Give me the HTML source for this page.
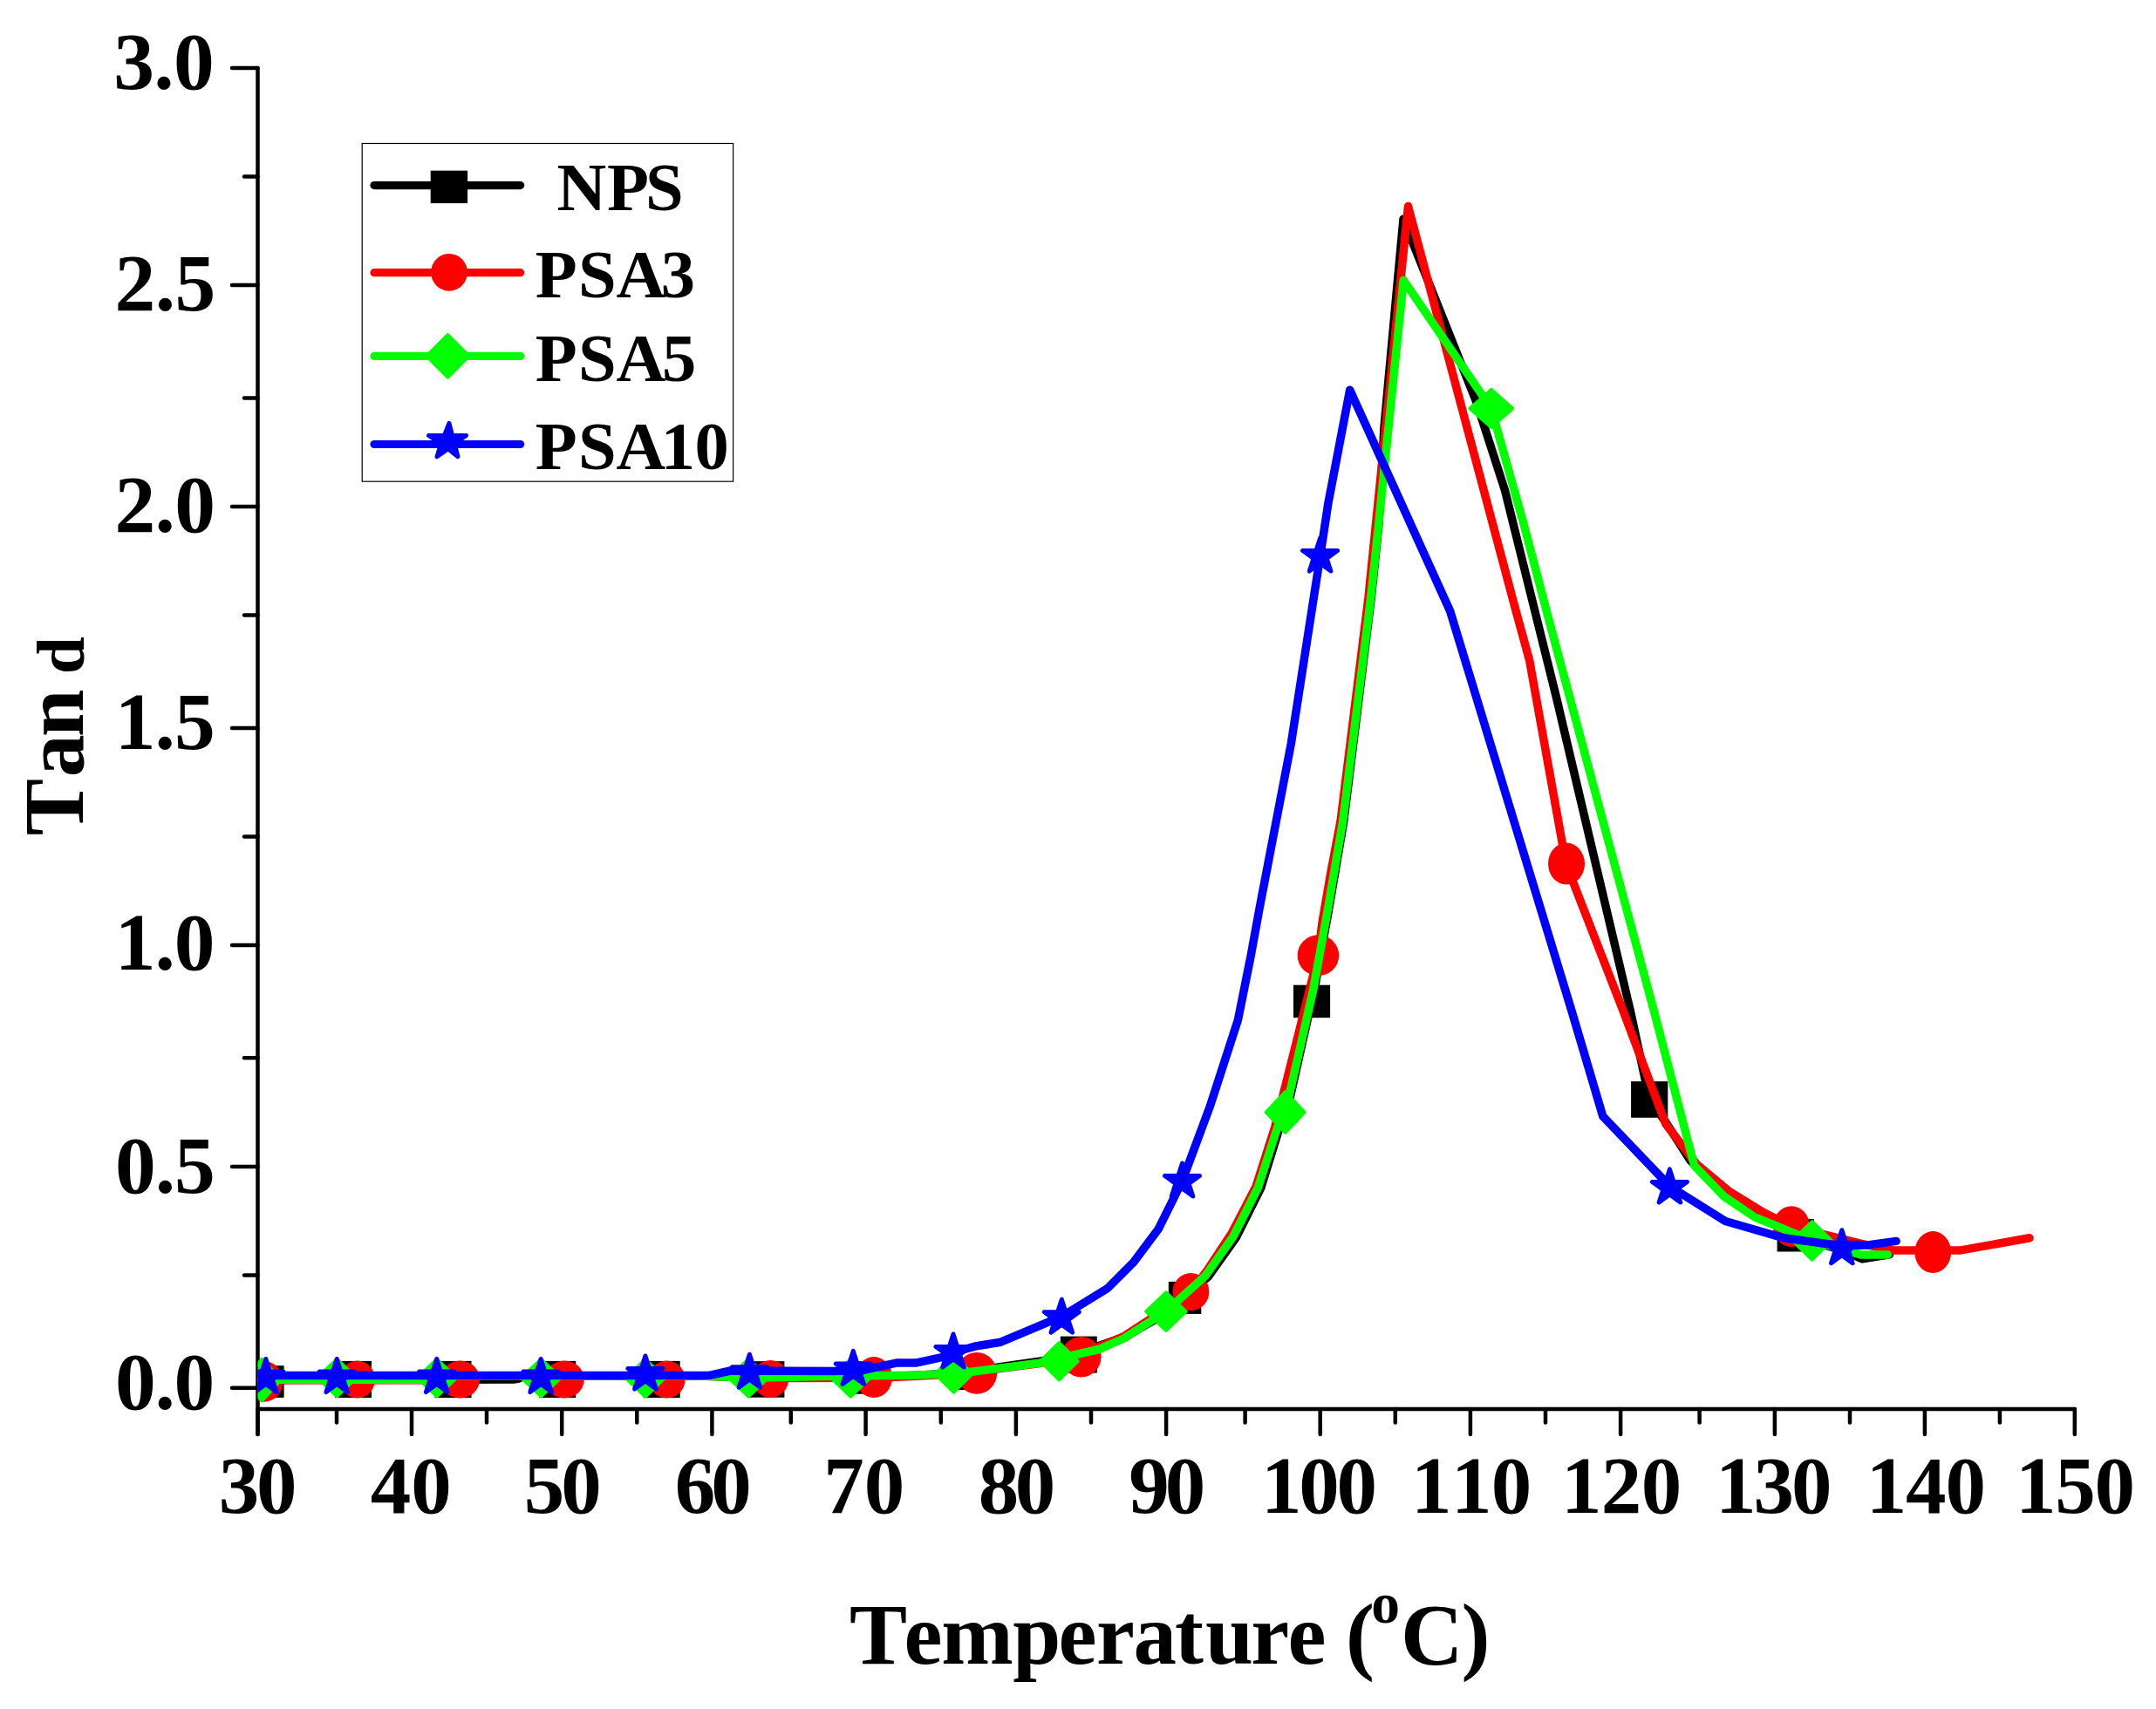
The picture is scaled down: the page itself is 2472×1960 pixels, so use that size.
<!DOCTYPE html>
<html lang="en"><head><meta charset="utf-8"><title>Tan d vs Temperature</title>
<style>html,body{margin:0;padding:0;background:#fff}body{width:2472px;height:1960px;overflow:hidden}svg{display:block}text{font-family:"Liberation Serif","Times New Roman",serif;font-weight:bold;fill:#000}</style>
</head><body>
<svg width="2472" height="1960" viewBox="0 0 2472 1960">
<rect width="2472" height="1960" fill="#fff"/>
<defs><clipPath id="plot"><rect x="295.6" y="60" width="2113.3" height="1553.7"/></clipPath></defs>
<g stroke="#000" stroke-width="4.5" stroke-linecap="round" fill="none">
<line x1="295.5" y1="78.0" x2="295.5" y2="1644.9"/>
<line x1="295.5" y1="1615.9" x2="2378.8" y2="1615.9"/>
<line x1="295.5" y1="1615.9" x2="295.5" y2="1644.9"/>
<line x1="386.0" y1="1615.9" x2="386.0" y2="1631.4"/>
<line x1="472.0" y1="1615.9" x2="472.0" y2="1644.9"/>
<line x1="558.0" y1="1615.9" x2="558.0" y2="1631.4"/>
<line x1="644.2" y1="1615.9" x2="644.2" y2="1644.9"/>
<line x1="730.3" y1="1615.9" x2="730.3" y2="1631.4"/>
<line x1="816.4" y1="1615.9" x2="816.4" y2="1644.9"/>
<line x1="906.8" y1="1615.9" x2="906.8" y2="1631.4"/>
<line x1="992.6" y1="1615.9" x2="992.6" y2="1644.9"/>
<line x1="1078.8" y1="1615.9" x2="1078.8" y2="1631.4"/>
<line x1="1164.9" y1="1615.9" x2="1164.9" y2="1644.9"/>
<line x1="1251.0" y1="1615.9" x2="1251.0" y2="1631.4"/>
<line x1="1337.1" y1="1615.9" x2="1337.1" y2="1644.9"/>
<line x1="1427.6" y1="1615.9" x2="1427.6" y2="1631.4"/>
<line x1="1513.7" y1="1615.9" x2="1513.7" y2="1644.9"/>
<line x1="1599.8" y1="1615.9" x2="1599.8" y2="1631.4"/>
<line x1="1685.9" y1="1615.9" x2="1685.9" y2="1644.9"/>
<line x1="1772.0" y1="1615.9" x2="1772.0" y2="1631.4"/>
<line x1="1858.1" y1="1615.9" x2="1858.1" y2="1644.9"/>
<line x1="1948.6" y1="1615.9" x2="1948.6" y2="1631.4"/>
<line x1="2034.9" y1="1615.9" x2="2034.9" y2="1644.9"/>
<line x1="2121.0" y1="1615.9" x2="2121.0" y2="1631.4"/>
<line x1="2206.9" y1="1615.9" x2="2206.9" y2="1644.9"/>
<line x1="2292.9" y1="1615.9" x2="2292.9" y2="1631.4"/>
<line x1="2378.8" y1="1615.9" x2="2378.8" y2="1644.9"/>
<line x1="295.5" y1="78.0" x2="266.0" y2="78.0"/>
<line x1="295.5" y1="202.4" x2="280.0" y2="202.4"/>
<line x1="295.5" y1="327.0" x2="266.0" y2="327.0"/>
<line x1="295.5" y1="456.5" x2="280.0" y2="456.5"/>
<line x1="295.5" y1="581.0" x2="266.0" y2="581.0"/>
<line x1="295.5" y1="705.6" x2="280.0" y2="705.6"/>
<line x1="295.5" y1="835.0" x2="266.0" y2="835.0"/>
<line x1="295.5" y1="959.5" x2="280.0" y2="959.5"/>
<line x1="295.5" y1="1084.0" x2="266.0" y2="1084.0"/>
<line x1="295.5" y1="1213.3" x2="280.0" y2="1213.3"/>
<line x1="295.5" y1="1337.9" x2="266.0" y2="1337.9"/>
<line x1="295.5" y1="1462.5" x2="280.0" y2="1462.5"/>
<line x1="295.5" y1="1591.8" x2="266.0" y2="1591.8"/>
</g>
<g clip-path="url(#plot)" fill="none" stroke-linejoin="round" stroke-linecap="round">
<polyline points="300.0,1582.5 589.0,1582.0 595.0,1581.0 602.0,1577.8 800.0,1577.8 880.0,1580.5 1000.0,1579.5 1050.0,1577.3 1093.0,1575.0 1143.0,1568.3 1192.0,1561.3 1236.6,1551.8 1290.0,1533.0 1338.5,1505.5 1358.5,1488.4 1385.5,1464.0 1417.5,1419.0 1445.5,1363.0 1467.0,1293.5 1475.2,1276.5 1492.3,1200.0 1507.3,1133.6 1524.0,1040.5 1540.6,942.8 1572.3,685.0 1581.0,600.0 1587.0,490.0 1609.0,251.2 1692.6,460.4 1725.5,562.4 1784.5,800.0 1869.5,1160.0 1891.2,1261.0 1909.9,1287.0 1938.1,1331.0 1980.0,1370.0 2020.0,1393.0 2058.3,1417.0 2077.6,1423.5 2112.0,1434.0 2135.3,1443.8 2166.5,1438.7" stroke="#000" stroke-width="9.5"/>
<g fill="#000" stroke="none">
<rect x="283.6" y="1566.2" width="42.0" height="36.7"/>
<rect x="384.0" y="1560.9" width="42.0" height="42.2"/>
<rect x="498.5" y="1560.9" width="42.0" height="42.2"/>
<rect x="618.2" y="1560.9" width="42.0" height="42.2"/>
<rect x="737.7" y="1560.9" width="42.0" height="42.2"/>
<rect x="857.4" y="1561.2" width="42.0" height="41.5"/>
<rect x="976.0" y="1561.2" width="37.5" height="37.5"/>
<rect x="1096.0" y="1557.0" width="37.5" height="37.0"/>
<rect x="1215.8" y="1532.6" width="42.0" height="42.0"/>
<rect x="1339.8" y="1469.9" width="37.5" height="37.0"/>
<rect x="1483.0" y="1129.7" width="42.1" height="37.5"/>
<rect x="1870.1" y="1240.2" width="42.2" height="41.6"/>
<rect x="2037.6" y="1398.1" width="42.2" height="37.4"/>
</g>
<polyline points="300.0,1582.8 500.0,1582.8 528.0,1577.9 800.0,1577.9 880.0,1580.5 1000.0,1580.3 1050.0,1578.3 1093.0,1576.0 1120.0,1573.0 1192.0,1563.5 1239.6,1553.0 1288.0,1533.0 1334.0,1503.0 1365.4,1481.6 1384.0,1457.0 1413.0,1413.0 1440.0,1361.0 1462.0,1292.0 1491.5,1175.0 1511.4,1095.7 1516.0,1058.0 1526.0,1000.0 1537.0,942.0 1569.0,685.0 1614.5,236.6 1737.9,700.0 1753.6,757.2 1795.5,990.6 1861.3,1160.0 1909.9,1289.2 1945.0,1335.0 1982.6,1366.4 2021.2,1390.1 2053.9,1406.5 2131.0,1425.7 2169.6,1434.1 2246.8,1434.1 2327.0,1419.8" stroke="#f00" stroke-width="9.5"/>
<g fill="#f00" stroke="none">
<ellipse cx="302.5" cy="1584.4" rx="22.0" ry="23.3"/>
<ellipse cx="409.7" cy="1582.0" rx="20.3" ry="21.5"/>
<ellipse cx="527.4" cy="1582.0" rx="22.7" ry="21.5"/>
<ellipse cx="647.1" cy="1582.0" rx="22.7" ry="21.5"/>
<ellipse cx="764.6" cy="1582.0" rx="21.0" ry="21.5"/>
<ellipse cx="883.4" cy="1581.4" rx="20.8" ry="21.5"/>
<ellipse cx="1001.9" cy="1579.6" rx="21.2" ry="23.5"/>
<ellipse cx="1119.9" cy="1574.9" rx="23.2" ry="23.9"/>
<ellipse cx="1239.6" cy="1556.2" rx="23.0" ry="23.2"/>
<ellipse cx="1365.4" cy="1481.6" rx="21.0" ry="21.5"/>
<ellipse cx="1511.4" cy="1095.7" rx="23.8" ry="23.4"/>
<ellipse cx="1796.0" cy="990.6" rx="21.0" ry="24.0"/>
<ellipse cx="2053.9" cy="1406.6" rx="21.0" ry="23.3"/>
<ellipse cx="2216.2" cy="1436.1" rx="20.9" ry="24.0"/>
</g>
<polyline points="300.0,1582.3 488.0,1582.3 512.0,1577.8 800.0,1577.8 860.0,1580.2 940.0,1578.5 1044.0,1577.2 1093.5,1575.5 1118.0,1572.7 1192.0,1563.1 1260.0,1547.5 1288.6,1535.0 1336.9,1504.1 1382.2,1462.9 1414.1,1418.0 1442.4,1362.0 1464.8,1292.6 1473.6,1275.6 1491.0,1200.0 1506.0,1133.6 1522.9,1040.0 1539.6,942.3 1571.8,685.0 1580.8,600.0 1609.2,321.4 1709.8,468.4 1746.8,600.0 1773.0,700.0 1896.5,1160.0 1942.6,1336.7 1976.7,1372.3 2012.3,1396.1 2077.6,1422.8 2134.0,1439.1 2164.3,1439.1" stroke="#0f0" stroke-width="9.5"/>
<g fill="#0f0" stroke="#0f0" stroke-width="4">
<polygon points="278.6,1582.6 300.3,1558.9 322.0,1582.6 300.3,1606.3"/>
<polygon points="363.9,1580.1 386.2,1559.0 408.5,1580.1 386.2,1601.2"/>
<polygon points="478.6,1580.2 500.9,1559.0 523.2,1580.2 500.9,1601.4"/>
<polygon points="598.0,1580.2 620.3,1559.0 642.6,1580.2 620.3,1601.4"/>
<polygon points="717.6,1580.4 739.9,1559.1 762.2,1580.4 739.9,1601.7"/>
<polygon points="835.8,1580.2 858.1,1558.9 880.4,1580.2 858.1,1601.5"/>
<polygon points="953.0,1580.2 975.3,1558.9 997.6,1580.2 975.3,1601.5"/>
<polygon points="1072.3,1575.6 1093.5,1554.5 1114.7,1575.6 1093.5,1596.7"/>
<polygon points="1192.9,1561.2 1214.3,1540.1 1235.7,1561.2 1214.3,1582.3"/>
<polygon points="1314.2,1504.1 1336.9,1482.4 1359.6,1504.1 1336.9,1525.8"/>
<polygon points="1451.7,1275.6 1473.6,1252.3 1495.5,1275.6 1473.6,1298.9"/>
<polygon points="1685.4,468.4 1709.8,446.9 1734.2,468.4 1709.8,489.9"/>
<polygon points="2055.4,1422.8 2077.6,1401.1 2099.8,1422.8 2077.6,1444.5"/>
</g>
<polyline points="300.0,1577.6 812.5,1577.6 837.6,1572.0 955.3,1572.5 989.0,1571.5 1027.6,1563.1 1050.0,1563.1 1081.0,1556.3 1093.4,1551.0 1119.6,1543.7 1147.4,1539.2 1217.5,1509.7 1269.9,1477.5 1299.7,1447.7 1328.3,1409.3 1355.5,1354.5 1387.2,1269.2 1419.4,1169.7 1434.1,1096.5 1444.4,1040.0 1480.4,852.3 1513.8,637.0 1522.9,577.0 1547.7,447.2 1662.7,701.0 1802.2,1160.0 1837.8,1280.3 1914.4,1360.4 1978.2,1400.5 2045.0,1419.8 2110.3,1428.7 2140.0,1428.1 2174.1,1423.4" stroke="#00f" stroke-width="9.5"/>
<g fill="#00f" stroke="#00f" stroke-width="5">
<polygon points="304.8,1558.5 309.5,1573.0 324.8,1573.0 312.4,1582.0 317.1,1596.5 304.8,1587.5 292.5,1596.5 297.2,1582.0 284.8,1573.0 300.1,1573.0"/>
<polygon points="386.2,1558.5 390.9,1573.0 406.2,1573.0 393.8,1582.0 398.5,1596.5 386.2,1587.5 373.9,1596.5 378.6,1582.0 366.2,1573.0 381.5,1573.0"/>
<polygon points="500.7,1558.5 505.4,1573.0 520.7,1573.0 508.3,1582.0 513.0,1596.5 500.7,1587.5 488.4,1596.5 493.1,1582.0 480.7,1573.0 496.0,1573.0"/>
<polygon points="620.1,1558.5 624.8,1573.0 640.1,1573.0 627.7,1582.0 632.4,1596.5 620.1,1587.5 607.8,1596.5 612.5,1582.0 600.1,1573.0 615.4,1573.0"/>
<polygon points="739.9,1555.0 744.6,1569.5 759.9,1569.5 747.5,1578.5 752.2,1593.0 739.9,1584.0 727.6,1593.0 732.3,1578.5 719.9,1569.5 735.2,1569.5"/>
<polygon points="859.4,1553.2 864.1,1567.7 879.4,1567.7 867.0,1576.7 871.7,1591.2 859.4,1582.2 847.1,1591.2 851.8,1576.7 839.4,1567.7 854.7,1567.7"/>
<polygon points="978.3,1549.4 983.0,1563.9 998.3,1563.9 985.9,1572.9 990.6,1587.4 978.3,1578.4 966.0,1587.4 970.7,1572.9 958.3,1563.9 973.6,1563.9"/>
<polygon points="1093.0,1530.0 1097.7,1544.5 1113.0,1544.5 1100.6,1553.5 1105.3,1568.0 1093.0,1559.0 1080.7,1568.0 1085.4,1553.5 1073.0,1544.5 1088.3,1544.5"/>
<polygon points="1217.3,1490.2 1222.0,1504.7 1237.3,1504.7 1224.9,1513.7 1229.6,1528.2 1217.3,1519.2 1205.0,1528.2 1209.7,1513.7 1197.3,1504.7 1212.6,1504.7"/>
<polygon points="1355.5,1334.0 1360.2,1348.5 1375.5,1348.5 1363.1,1357.5 1367.8,1372.0 1355.5,1363.0 1343.2,1372.0 1347.9,1357.5 1335.5,1348.5 1350.8,1348.5"/>
<polygon points="1513.6,617.0 1518.3,631.5 1533.6,631.5 1521.2,640.5 1525.9,655.0 1513.6,646.0 1501.3,655.0 1506.0,640.5 1493.6,631.5 1508.9,631.5"/>
<polygon points="1914.4,1340.9 1919.1,1355.4 1934.4,1355.4 1922.0,1364.4 1926.7,1378.9 1914.4,1369.9 1902.1,1378.9 1906.8,1364.4 1894.4,1355.4 1909.7,1355.4"/>
<polygon points="2111.8,1410.7 2116.5,1425.2 2131.8,1425.2 2119.4,1434.2 2124.1,1448.7 2111.8,1439.7 2099.5,1448.7 2104.2,1434.2 2091.8,1425.2 2107.1,1425.2"/>
</g>
</g>
<g font-size="93.5">
<text x="130.2 176.3 199.1" y="102.4">3.0</text>
<text x="131.4 177.7 200.6" y="356.0">2.5</text>
<text x="131.4 177.5 200.2" y="609.7">2.0</text>
<text x="131.8 177.6 200.1" y="858.8">1.5</text>
<text x="131.8 177.4 199.7" y="1112.3">1.0</text>
<text x="132.1 177.8 200.1" y="1367.9">0.5</text>
<text x="132.0 177.5 199.6" y="1616.3">0.0</text>
</g>
<g font-size="93.0">
<text x="250.7 294.1" y="1734.8">30</text>
<text x="424.7 471.2" y="1734.8">40</text>
<text x="600.7 643.2" y="1734.8">50</text>
<text x="773.7 815.2" y="1734.8">60</text>
<text x="944.2 990.7" y="1734.8">70</text>
<text x="1121.8 1163.8" y="1734.8">80</text>
<text x="1294.3 1335.8" y="1734.8">90</text>
<text x="1446.1 1489.3 1532.6" y="1734.8">100</text>
<text x="1618.1 1663.9 1709.7" y="1734.8">110</text>
<text x="1790.0 1835.8 1881.7" y="1734.8">120</text>
<text x="1966.9 2010.4 2053.9" y="1734.8">130</text>
<text x="2139.7 2185.1 2230.6" y="1734.8">140</text>
<text x="2311.1 2356.3 2401.5" y="1734.8">150</text>
</g>
<text font-size="99.0" y="1908.2" x="974.1 1036.6 1079.2 1161.2 1213.6 1257.1 1299.5 1347.0 1382.0 1434.3 1476.5 1520.4 1543.0">Temperature (<tspan font-size="65.5" x="1572.2" dy="-47.6">o</tspan><tspan x="1605.9 1675.6" dy="47.6">C)</tspan></text>
<text font-size="98.0" transform="translate(94.9,955.3) rotate(-90)" y="0" x="-3.0 64.1 110.3 164.8">Tan <tspan font-size="77.5" x="182.0" dy="0.8">d</tspan></text>
<rect x="415.2" y="164.5" width="425.4" height="387.7" fill="#fff" stroke="#000" stroke-width="1.2"/>
<line x1="429" y1="212.6" x2="596.6" y2="212.6" stroke="#000" stroke-width="9.2" stroke-linecap="round"/>
<line x1="429" y1="312.7" x2="596.6" y2="312.7" stroke="#f00" stroke-width="9.2" stroke-linecap="round"/>
<line x1="429" y1="408.4" x2="596.6" y2="408.4" stroke="#0f0" stroke-width="9.2" stroke-linecap="round"/>
<line x1="429" y1="509.5" x2="596.6" y2="509.5" stroke="#00f" stroke-width="9.2" stroke-linecap="round"/>
<rect x="493.7" y="195.7" width="42.4" height="37.4" fill="#000"/>
<ellipse cx="515" cy="312.3" rx="20.9" ry="21.4" fill="#f00"/>
<polygon points="489.2,408.4 513.4,384.2 537.6,408.4 513.4,432.6" fill="#0f0" stroke="#0f0" stroke-width="4" stroke-linejoin="round"/>
<polygon points="514.9,485.4 518.6,499.5 534.5,499.5 521.3,508.8 524.9,523.7 513.8,514.8 501.0,523.7 505.7,508.8 491.5,499.5 509.4,499.5" fill="#00f" stroke="#00f" stroke-width="5" stroke-linejoin="round"/>
<g font-size="78.5">
<text x="638.6 695.9 739.9" y="241.4">NPS</text>
<text x="613.8 663.0 706.4 757.8" y="341.2">PSA3</text>
<text x="613.8 663.0 706.4 759.0" y="436.8">PSA5</text>
<text x="613.8 663.0 706.4 757.7 796.5" y="538.2">PSA10</text>
</g>
</svg>
</body></html>
